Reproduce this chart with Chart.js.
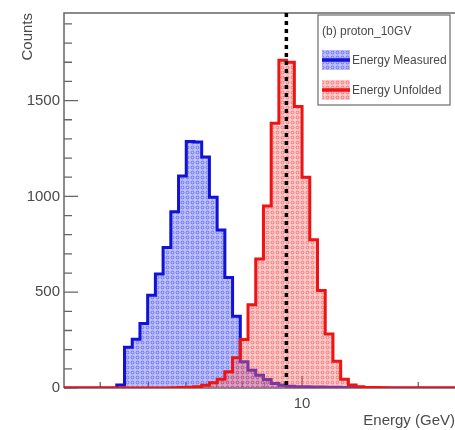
<!DOCTYPE html>
<html>
<head>
<meta charset="utf-8">
<title>proton_10GV energy unfolding</title>
<script src="https://cdn.jsdelivr.net/npm/chart.js@4.4.0/dist/chart.umd.min.js"></script>
<style>
  html, body { margin: 0; padding: 0; background: #fff; }
  #wrap { width: 455px; height: 430px; }
</style>
</head>
<body>
<div id="wrap"><canvas id="c" width="455" height="430"></canvas></div>
<script>
// Histogram bin edges in GeV (log-spaced, 0.02 decade per bin)
const binEdges = [
  2.3988, 2.5119, 2.6303, 2.7542, 2.8840, 3.0200, 3.1623, 3.3113, 3.4674, 3.6308,
  3.8019, 3.9811, 4.1687, 4.3652, 4.5709, 4.7863, 5.0119, 5.2481, 5.4954, 5.7544,
  6.0256, 6.3096, 6.6069, 6.9183, 7.2444, 7.5858, 7.9433, 8.3176, 8.7096, 9.1201,
  9.5499, 10.000, 10.471, 10.965, 11.482, 12.023, 12.589, 13.183, 13.804, 14.454,
  15.136, 15.849, 16.596, 17.378, 18.197, 19.055, 19.953, 20.893, 21.878, 22.909,
  23.988, 25.119
];

// Counts per bin
const measuredCounts = [
  0, 0, 0, 0, 0, 0, 0, 16, 213, 254,
  336, 484, 595, 733, 920, 1106, 1287, 1284, 1205, 995,
  825, 577, 375, 137, 93, 67, 44, 24, 15, 9,
  7, 6, 5, 5, 4, 4, 3, 3, 2, 1,
  1, 0, 0, 0, 0, 0, 0, 0, 0, 0,
  0
];
const unfoldedCounts = [
  0, 0, 0, 0, 0, 0, 0, 0, 0, 0,
  0, 0, 0, 0, 1, 2, 4, 7, 15, 28,
  46, 85, 158, 253, 435, 673, 950, 1382, 1711, 1700,
  1469, 1100, 774, 509, 282, 140, 46, 16, 6, 3,
  2, 1, 0, 0, 0, 0, 0, 0, 0, 0,
  0
];

const seriesLabels = ['Energy Measured', 'Energy Unfolded'];
const legendTitle = '(b) proton_10GV';
const trueEnergy = 9.106; // kinetic energy of a 10 GV proton (GeV)

const xMin = 2.417, xMax = 24.9;
const yMin = 0, yMax = 1957;
const xTickValues = [3, 4, 5, 6, 7, 8, 9, 10, 20];
const xTickLabels = ['', '', '', '', '', '', '', '10', ''];
const yTickValues = [0, 100, 200, 300, 400, 500, 600, 700, 800, 900,
                     1000, 1100, 1200, 1300, 1400, 1500, 1600, 1700, 1800, 1900];
const yTickLabels = ['0', '', '', '', '', '500', '', '', '', '',
                     '1000', '', '', '', '', '1500', '', '', '', ''];

const FONT = "'Liberation Sans', Arial, Helvetica, sans-serif";
const TEXT = '#4a4a4a';
const BLUE = '#1212d6';
const RED = '#ec1414';

// Small repeating tile used as the hatched fill of each histogram
function patternTile(bg, mark) {
  const c = document.createElement('canvas');
  c.width = 5; c.height = 5;
  const g = c.getContext('2d');
  g.fillStyle = bg;
  g.fillRect(0, 0, 5, 5);
  g.strokeStyle = mark;
  g.lineWidth = 0.9;
  g.beginPath();
  g.arc(2.5, 2.5, 1.4, 0, Math.PI * 2);
  g.stroke();
  return c;
}

const canvas = document.getElementById('c');
const ctx = canvas.getContext('2d');
const bluePattern = ctx.createPattern(patternTile('rgba(95,105,255,0.42)', 'rgba(40,50,220,0.55)'), 'repeat');
const redPattern = ctx.createPattern(patternTile('rgba(255,120,120,0.40)', 'rgba(225,40,40,0.50)'), 'repeat');

// One point per bin's lower edge, plus the last upper edge, for a step outline
function stepPoints(edges, counts) {
  const pts = counts.map((c, i) => ({ x: edges[i], y: c }));
  pts.push({ x: edges[counts.length], y: counts[counts.length - 1] });
  return pts;
}

// Frame lines and inward tick marks
const framePlugin = {
  id: 'frame',
  beforeDatasetsDraw(chart) {
    const { ctx, chartArea: a, scales } = chart;
    ctx.save();
    ctx.strokeStyle = '#666';
    ctx.lineWidth = 1.5;
    ctx.beginPath();
    ctx.moveTo(a.left, a.bottom);
    ctx.lineTo(a.left, a.top);
    ctx.lineTo(a.right, a.top);
    ctx.moveTo(a.left, a.bottom);
    ctx.lineTo(a.right, a.bottom);
    ctx.stroke();

    ctx.lineWidth = 1.3;
    ctx.beginPath();
    scales.x.ticks.forEach(t => {
      const px = scales.x.getPixelForValue(t.value);
      const len = t.label ? 12 : 6;
      ctx.moveTo(px, a.bottom);
      ctx.lineTo(px, a.bottom - len);
    });
    scales.y.ticks.forEach(t => {
      const py = scales.y.getPixelForValue(t.value);
      const len = t.label ? 14 : 8;
      ctx.moveTo(a.left, py);
      ctx.lineTo(a.left + len, py);
    });
    ctx.stroke();
    ctx.restore();
  }
};

// Boxed legend in the upper right corner
const legendPlugin = {
  id: 'boxLegend',
  afterDraw(chart) {
    const { ctx } = chart;
    const box = { x: 318, y: 15, w: 132, h: 90 };
    ctx.save();
    ctx.fillStyle = '#fff';
    ctx.fillRect(box.x, box.y, box.w, box.h);
    ctx.strokeStyle = '#777';
    ctx.lineWidth = 1.3;
    ctx.strokeRect(box.x, box.y, box.w, box.h);

    ctx.font = '12px ' + FONT;
    ctx.fillStyle = TEXT;
    ctx.textBaseline = 'middle';
    ctx.textAlign = 'left';
    ctx.fillText(legendTitle, box.x + 4, box.y + 17);

    const rows = [box.y + 45, box.y + 75];
    [0, 1].forEach((di, r) => {
      const ds = chart.data.datasets[di];
      const cy = rows[r];
      ctx.fillStyle = ds.backgroundColor;
      ctx.fillRect(box.x + 4, cy - 10, 28, 20);
      ctx.strokeStyle = ds.borderColor;
      ctx.lineWidth = 3.5;
      ctx.beginPath();
      ctx.moveTo(box.x + 4, cy);
      ctx.lineTo(box.x + 32, cy);
      ctx.stroke();
      ctx.fillStyle = TEXT;
      ctx.fillText(ds.label, box.x + 34, cy + 1);
    });
    ctx.restore();
  }
};

new Chart(ctx, {
  type: 'line',
  data: {
    datasets: [
      {
        label: seriesLabels[0],
        data: stepPoints(binEdges, measuredCounts),
        stepped: 'before',
        borderColor: BLUE,
        borderWidth: 3,
        backgroundColor: bluePattern,
        fill: 'origin',
        pointRadius: 0,
        order: 2
      },
      {
        label: seriesLabels[1],
        data: stepPoints(binEdges, unfoldedCounts),
        stepped: 'before',
        borderColor: RED,
        borderWidth: 3,
        backgroundColor: redPattern,
        fill: 'origin',
        pointRadius: 0,
        order: 1
      },
      {
        label: 'True energy',
        data: [{ x: trueEnergy, y: yMax }, { x: trueEnergy, y: yMin }],
        borderColor: '#000',
        borderWidth: 3.5,
        borderDash: [4, 4],
        fill: false,
        pointRadius: 0,
        order: 0
      }
    ]
  },
  options: {
    responsive: false,
    animation: false,
    devicePixelRatio: 1,
    layout: { padding: { top: 11, left: 0, right: 0, bottom: 0 } },
    plugins: {
      legend: { display: false },
      tooltip: { enabled: false }
    },
    scales: {
      x: {
        type: 'logarithmic',
        min: xMin,
        max: xMax,
        afterBuildTicks: s => { s.ticks = xTickValues.map(v => ({ value: v })); },
        afterFit: s => { s.height = 42; },
        grid: { display: false, drawTicks: false },
        border: { display: false },
        ticks: {
          autoSkip: false,
          maxRotation: 0,
          padding: 7,
          color: TEXT,
          font: { family: FONT, size: 15 },
          callback: v => {
            const i = xTickValues.indexOf(v);
            return i >= 0 ? xTickLabels[i] : '';
          }
        },
        title: {
          display: true,
          text: 'Energy (GeV)',
          align: 'end',
          color: TEXT,
          font: { family: FONT, size: 15 },
          padding: { top: 0, bottom: 0 }
        }
      },
      y: {
        type: 'linear',
        min: yMin,
        max: yMax,
        afterBuildTicks: s => { s.ticks = yTickValues.map(v => ({ value: v })); },
        afterFit: s => { s.width = 64; },
        grid: { display: false, drawTicks: false },
        border: { display: false },
        ticks: {
          autoSkip: false,
          padding: 4,
          color: TEXT,
          font: { family: FONT, size: 15 },
          callback: v => {
            const i = yTickValues.indexOf(v);
            return i >= 0 ? yTickLabels[i] : '';
          }
        },
        title: {
          display: true,
          text: 'Counts',
          align: 'end',
          color: TEXT,
          font: { family: FONT, size: 15 },
          padding: { top: 19, bottom: 0 }
        }
      }
    }
  },
  plugins: [framePlugin, legendPlugin]
});
</script>
</body>
</html>
